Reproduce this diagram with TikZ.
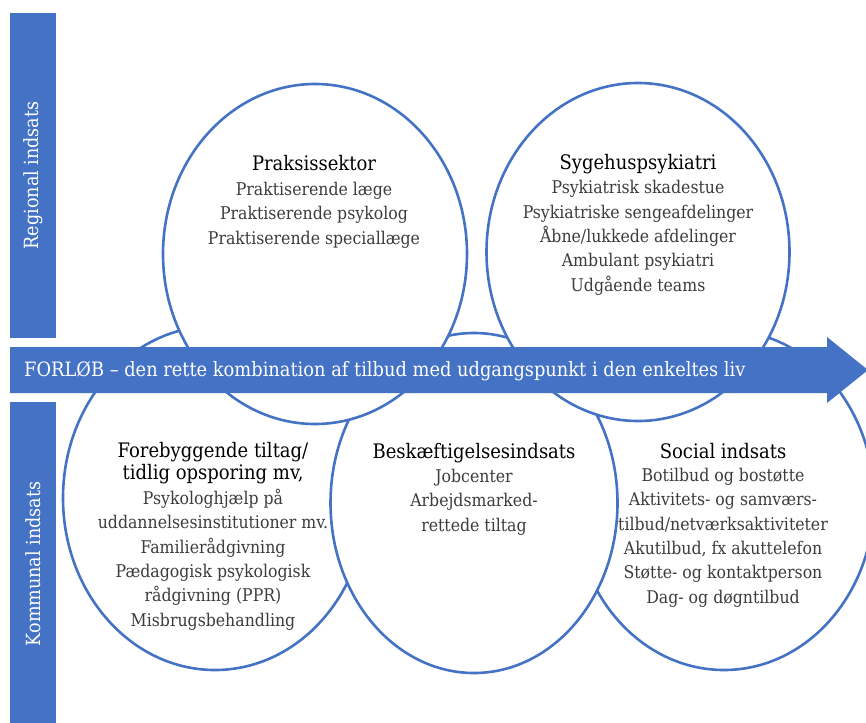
\documentclass[tikz,border=0pt]{standalone}
\usepackage{fontspec}
\setmainfont{DejaVu Serif Condensed}
\usepackage{xcolor}
\definecolor{officeblue}{RGB}{68,114,196}
\definecolor{bodygray}{RGB}{60,60,60}
\usetikzlibrary{shapes.geometric,positioning}

\begin{document}
\begin{tikzpicture}[
  x=1pt, y=-1pt,
  bubble/.style={ellipse, draw=officeblue, fill=white, line width=2.6pt, inner sep=0pt},
  sidebar/.style={fill=officeblue, text=white, rotate=90, minimum height=46pt, inner sep=0pt, font=\fontsize{19.5}{22}\selectfont},
  band/.style={fill=officeblue},
  bandtext/.style={text=white, anchor=base west, inner sep=0pt, font=\fontsize{19.8}{22}\selectfont},
  head/.style={text=black, align=center, anchor=base, inner sep=0pt, font=\fontsize{20}{22}\selectfont},
  body/.style={text=bodygray, align=center, anchor=base, inner sep=0pt, font=\fontsize{17.5}{24.3}\selectfont}
]
\useasboundingbox (0,0) rectangle (866,722);
\clip (0,0) rectangle (866,722);

\node[bubble, minimum width=304pt, minimum height=344pt] (forebyg) at (215,498) {};
\node[bubble, minimum width=300pt, minimum height=340pt] (social) at (724,500) {};
\node[bubble, minimum width=287pt, minimum height=340pt] (beskaeft) at (474,503) {};
\node[bubble, minimum width=304pt, minimum height=340pt] (praksis) at (315,254) {};
\node[bubble, minimum width=303pt, minimum height=338pt] (sygehus) at (638,252) {};

\fill[band] (10,347) -- (827,347) -- (827,337) -- (868,370) -- (827,403) -- (827,393) -- (10,393) -- cycle;
\node[bandtext] (forlob) at (24,376) {FORLØB – den rette kombination af tilbud med udgangspunkt i den enkeltes liv};

\node[sidebar, minimum width=325pt] (regional) at (33,175.5) {Regional indsats};
\node[sidebar, minimum width=324pt] (kommunal) at (33,564) {Kommunal indsats};

\node[head] (praksishead) at (314,171) {Praksissektor};
\node[body] (praksisbody) at ([yshift=-73pt]praksishead.base) {Praktiserende læge\\Praktiserende psykolog\\Praktiserende speciallæge};

\node[head] (sygehushead) at (638,169) {Sygehuspsykiatri};
\node[body] (sygehusbody) at ([yshift=-122pt]sygehushead.base) {Psykiatrisk skadestue\\Psykiatriske sengeafdelinger\\Åbne/lukkede afdelinger\\Ambulant psykiatri\\Udgående teams};

\node[head] (forebyghead) at (213,479) {Forebyggende tiltag/\\tidlig opsporing mv,};
\node[body] (forebygbody) at ([yshift=-147pt]forebyghead.base) {Psykologhjælp på\\uddannelsesinstitutioner mv.\\Familierådgivning\\Pædagogisk psykologisk\\rådgivning (PPR)\\Misbrugsbehandling};

\node[head] (beskaefthead) at (474,458) {Beskæftigelsesindsats};
\node[body] (beskaeftbody) at ([yshift=-73pt]beskaefthead.base) {Jobcenter\\Arbejdsmarked-\\rettede tiltag};

\node[head] (socialhead) at (723,458) {Social indsats};
\node[body] (socialbody) at ([yshift=-145pt]socialhead.base) {Botilbud og bostøtte\\Aktivitets- og samværs-\\tilbud/netværksaktiviteter\\Akutilbud, fx akuttelefon\\Støtte- og kontaktperson\\Dag- og døgntilbud};
\end{tikzpicture}
\end{document}
